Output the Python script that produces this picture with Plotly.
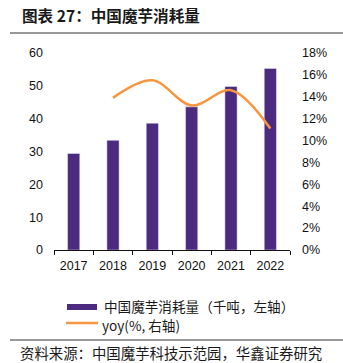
import plotly.graph_objects as go

years = ["2017", "2018", "2019", "2020", "2021", "2022"]
consumption = [29.4, 33.4, 38.6, 43.6, 49.8, 55.3]  # 千吨
yoy_years = ["2018", "2019", "2020", "2021", "2022"]
yoy = [0.139, 0.155, 0.132, 0.146, 0.111]

title_text = "图表 27：中国魔芋消耗量"
bar_name = "中国魔芋消耗量（千吨，左轴）"
line_name = "yoy(%, 右轴)"
source_text = "资料来源：中国魔芋科技示范园，华鑫证券研究"

PURPLE = "#4B2A7F"
ORANGE = "#F7963F"
CJK = "Noto Sans CJK SC"
LATIN = "Liberation Sans, Arial"

W, H = 343, 363
L, R, T, B = 54, 290, 53, 250   # plot area edges in pixels


def xp(x):
    """pixel column -> paper x (paper spans the whole figure)"""
    return x / W


def yp(y):
    """pixel row -> paper y"""
    return 1 - y / H


fig = go.Figure()
fig.add_trace(go.Bar(x=years, y=consumption, name=bar_name, marker_color=PURPLE,
                     width=0.31, yaxis="y"))
fig.add_trace(go.Scatter(x=yoy_years, y=yoy, name=line_name, mode="lines",
                         line=dict(color=ORANGE, width=2.5, shape="spline", smoothing=1.0),
                         yaxis="y2"))

# header / footer rules and the hand-drawn legend keys
shapes = [
    dict(type="line", xref="paper", yref="paper", x0=xp(10), x1=xp(343), y0=yp(33), y1=yp(33),
         line=dict(color="#333", width=1.2)),
    dict(type="line", xref="paper", yref="paper", x0=xp(10), x1=xp(343), y0=yp(340), y1=yp(340),
         line=dict(color="#333", width=1)),
    dict(type="rect", xref="paper", yref="paper", x0=xp(67), x1=xp(97), y0=yp(310), y1=yp(304),
         fillcolor=PURPLE, line=dict(width=0)),
    dict(type="line", xref="paper", yref="paper", x0=xp(66), x1=xp(98), y0=yp(323), y1=yp(323),
         line=dict(color=ORANGE, width=2.5)),
]


def label(text, x_left, x_right, y, size, bold=False):
    # centred between the intended left/right pixel edges
    return dict(text=f"<b>{text}</b>" if bold else text, xref="paper", yref="paper",
                x=xp((x_left + x_right) / 2), y=yp(y), xanchor="center", yanchor="middle",
                showarrow=False, borderpad=0,
                font=dict(family=CJK, size=size, color="#1a1a1a"))


annotations = [
    label(title_text, 21, 200, 15, 15.6, bold=True),
    label(bar_name, 103, 295, 306, 13.6),
    label(line_name, 101, 180, 325, 13.6),
    label(source_text, 20, 322, 352, 14.4),
]

axis_font = dict(family=LATIN, size=12.5, color="#111")

fig.update_layout(
    width=W, height=H,
    margin=dict(l=0, r=0, t=0, b=0, pad=0),
    paper_bgcolor="white", plot_bgcolor="white",
    showlegend=False,
    bargap=0.69,
    font=dict(family=LATIN, size=12, color="#111"),
    xaxis=dict(type="category", domain=[L / W, R / W], automargin=False, showline=True,
               linecolor="#111", linewidth=1, ticks="outside", tickson="boundaries",
               ticklen=4, tickcolor="#111", ticklabelstandoff=4, showgrid=False,
               tickfont=axis_font),
    yaxis=dict(range=[0, 60], dtick=10, domain=[1 - B / H, 1 - T / H], automargin=False,
               showgrid=False, zeroline=False, showline=False, ticks="",
               ticklabelstandoff=10, tickfont=axis_font),
    yaxis2=dict(range=[0, 0.18], dtick=0.02, tickformat=".0%", overlaying="y", side="right",
                automargin=False, showgrid=False, zeroline=False, showline=False, ticks="",
                ticklabelstandoff=11, tickfont=axis_font),
    shapes=shapes,
    annotations=annotations,
)

fig.write_html("out.html")
